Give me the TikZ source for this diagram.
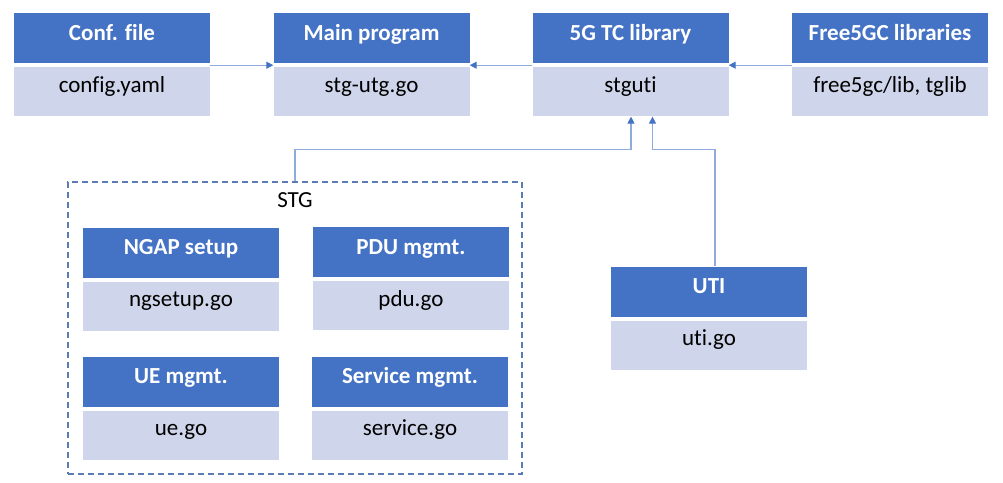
\documentclass[tikz,border=0pt]{standalone}
\usepackage{fontspec}
\setmainfont{Carlito}[Ligatures=CommonOff]
\usetikzlibrary{positioning, arrows.meta}

\definecolor{hdblue}{HTML}{4472C4}
\definecolor{bdgray}{HTML}{CFD5EA}
\definecolor{lnblue}{HTML}{8FAADC}
\definecolor{frblue}{HTML}{5A7BB5}

\tikzset{
  modhead/.style={fill=hdblue, text=white, font=\fontsize{23}{27}\selectfont\bfseries,
    minimum width=196pt, inner sep=0pt, text height=27pt, text depth=23pt},
  modbody/.style={fill=bdgray, font=\fontsize{23}{27}\selectfont,
    minimum width=196pt, inner sep=0pt, text height=25pt, text depth=24pt,
    below=4pt of #1},
  stgframe/.style={draw=frblue, line width=1.5pt, dash pattern=on 6pt off 4pt,
    minimum width=454pt, minimum height=292pt, inner sep=0pt},
  conn/.style={draw=lnblue, line width=1.2pt,
    -{Triangle[length=7pt, width=7pt, color=hdblue]}}
}

\begin{document}
\begin{tikzpicture}[x=1pt, y=-1pt]
        \useasboundingbox (0,0) rectangle (1003,482);
        % top row
        \node[modhead] (conf) at (112,38) {Conf. file};
        \node[modbody=conf] (confbody) {config.yaml};
        \node[modhead] (main) at (371.5,38) {Main program};
        \node[modbody=main] (mainbody) {stg-utg.go};
        \node[modhead] (tclib) at (630.5,38) {5G TC library};
        \node[modbody=tclib] (tclibbody) {stguti};
        \node[modhead] (free) at (890,38) {Free5GC libraries};
        \node[modbody=free] (freebody) {free5gc/lib, tglib};
        % STG
        \node[stgframe] (stg) at (295,328) {};
        \node[anchor=base, font=\fontsize{23}{27}\selectfont] (stgname) at (295,207) {STG};
        \node[modhead] (ngap) at (181,252.5) {NGAP setup};
        \node[modbody=ngap] (ngapbody) {ngsetup.go};
        \node[modhead] (pdu) at (411,252) {PDU mgmt.};
        \node[modbody=pdu] (pdubody) {pdu.go};
        \node[modhead] (ue) at (181,381.5) {UE mgmt.};
        \node[modbody=ue] (uebody) {ue.go};
        \node[modhead] (service) at (410,381.5) {Service mgmt.};
        \node[modbody=service] (servicebody) {service.go};
        % UTI
        \node[modhead] (uti) at (709,291.5) {UTI};
        \node[modbody=uti] (utibody) {uti.go};
        % connectors
        \draw[conn] ([yshift=-2pt]conf.south east) -- ([yshift=-2pt]main.south west);
        \draw[conn] ([yshift=-2pt]tclib.south west) -- ([yshift=-2pt]main.south east);
        \draw[conn] ([yshift=-2pt]free.south west) -- ([yshift=-2pt]tclib.south east);
        \coordinate (stgin) at ([xshift=0.5pt]tclibbody.south);
        \coordinate (utiin) at ([xshift=22pt]tclibbody.south);
        \draw[conn] (stg.north) |- ([yshift=-33pt]stgin) -- (stgin);
        \draw[conn] ([xshift=6pt]uti.north) |- ([yshift=-33pt]utiin) -- (utiin);
    \end{tikzpicture}
\end{document}
